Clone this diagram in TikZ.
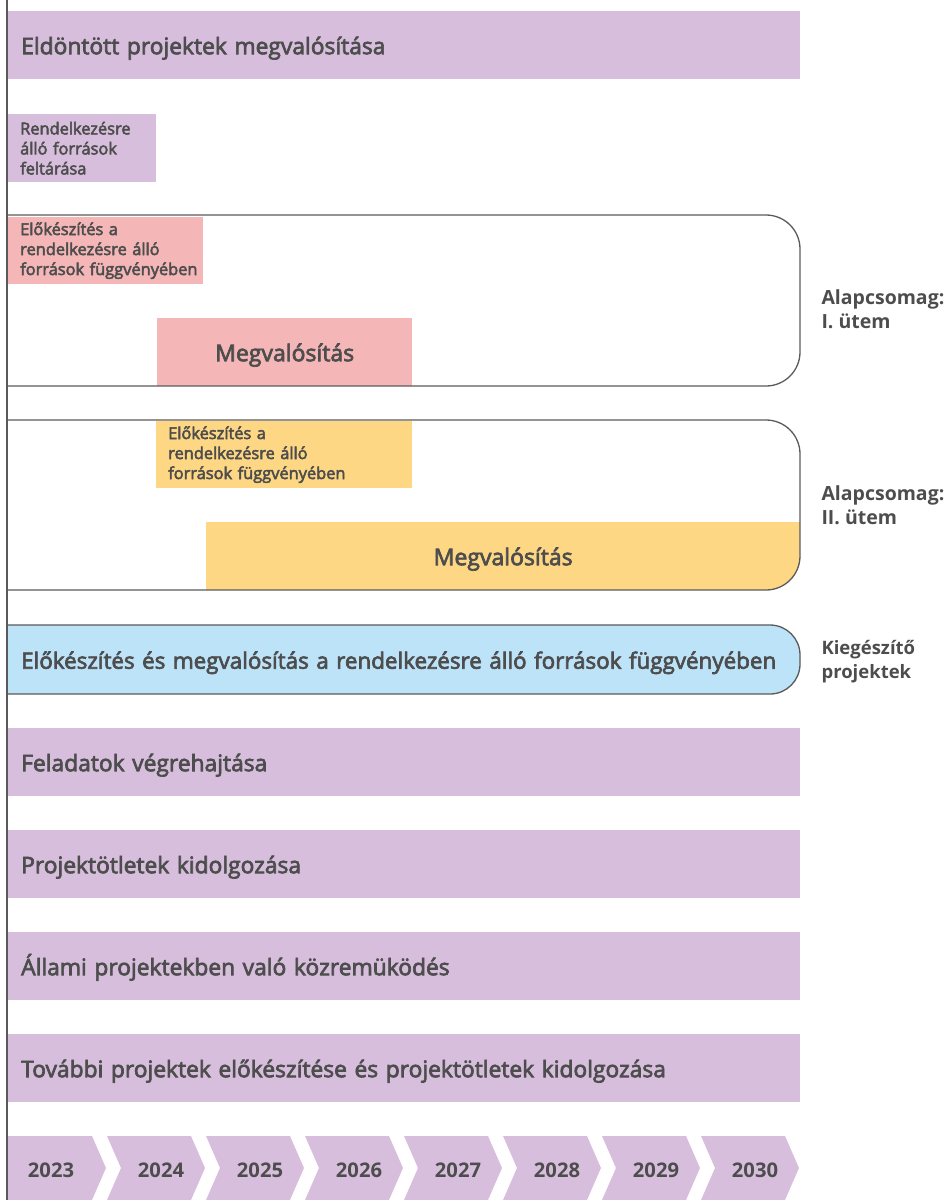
\documentclass[tikz,border=0pt]{standalone}
\usepackage{fontspec}
\setmainfont{Open Sans}
\newfontfamily\felkover{Open Sans}[FakeBold=3]
\usetikzlibrary{positioning}
\definecolor{lila}{HTML}{D8BEDD}
\definecolor{rozsa}{HTML}{F4B6B7}
\definecolor{sarga}{HTML}{FDD784}
\definecolor{kek}{HTML}{BDE3F8}
\definecolor{szoveg}{HTML}{4D4D4D}
\definecolor{keret}{HTML}{5A5A5A}
\begin{document}
\begin{tikzpicture}[x=1pt,y=-1pt,
  every node/.append style={text=szoveg, inner ysep=0pt},
  sav/.style={anchor=north west, fill=lila, minimum height=68pt, inner xsep=13pt,
    text width=766pt, text height=18pt, text depth=0pt, align=left,
    font=\felkover\fontsize{22.8}{26}\selectfont},
  kisdoboz/.style={anchor=north west, minimum height=68pt, inner xsep=12pt,
    align=left, font=\felkover\fontsize{16.4}{20}\selectfont},
  megval/.style={anchor=north west, minimum height=68pt, text height=18pt, text depth=0pt,
    font=\felkover\fontsize{23}{26}\selectfont},
  csomag/.style={anchor=west, align=left, font=\bfseries\fontsize{19.5}{24}\selectfont},
  keretvonal/.style={draw=keret, line width=1.3pt}]
\useasboundingbox (0,0) rectangle (948,1200);

% lila savok
\node[sav] (eldontott) at (8,11) {Eldöntött projektek megvalósítása};
\node[kisdoboz, fill=lila, text width=124pt] (feltaras) at (8,114)
  {\mbox{Rendelkezésre}\\\mbox{álló források}\\\mbox{feltárása}};

% Alapcsomag I. utem
\node[kisdoboz, fill=rozsa, minimum height=67pt, text width=171pt] (elok1) at (8,217)
  {\mbox{Előkészítés a}\\\mbox{rendelkezésre álló}\\\mbox{források függvényében}};
\node[megval, fill=rozsa, minimum width=255pt] (megval1) at (157,318) {Megvalósítás};
\draw[keretvonal, rounded corners=34pt] (7,215) -- (800,215) -- (800,386) -- (7,386);
\node[csomag] (utem1) at (818,309) {Alapcsomag:\\I. ütem};

% Alapcsomag II. utem
\node[kisdoboz, fill=sarga, minimum height=67pt, text width=232pt] (elok2) at (156,421)
  {\mbox{Előkészítés a}\\\mbox{rendelkezésre álló}\\\mbox{források függvényében}};
\begin{scope}
  \clip[rounded corners=34pt] (7,420) -- (800,420) -- (800,590) -- (7,590) -- cycle;
  \node[megval, fill=sarga, minimum width=594pt] (megval2) at (206,522) {Megvalósítás};
\end{scope}
\draw[keretvonal, rounded corners=34pt] (7,420) -- (800,420) -- (800,590) -- (7,590);
\node[csomag] (utem2) at (818,505) {Alapcsomag:\\II. ütem};

% kiegeszito projektek
\filldraw[keretvonal, fill=kek, rounded corners=30pt] (7,625) -- (800,625) -- (800,694) -- (7,694);
\node[sav, fill=none, minimum height=69pt, font=\felkover\fontsize{22.4}{26}\selectfont] (kiegeszito) at (8,625)
  {\mbox{Előkészítés és megvalósítás a rendelkezésre álló források függvényében}};
\node[csomag, font=\bfseries\fontsize{18.5}{24}\selectfont] (kieg) at (818,662) {Kiegészítő\\projektek};

% tovabbi savok
\node[sav] (feladatok) at (8,728) {Feladatok végrehajtása};
\node[sav] (otletek) at (8,830) {Projektötletek kidolgozása};
\node[sav] (allami) at (8,932) {Állami projektekben való közremüködés};
\node[sav] (tovabbi) at (8,1034) {További projektek előkészítése és projektötletek kidolgozása};

% evek
\foreach \ev [count=\i from 0] in {2023,...,2030} {
  \pgfmathsetmacro\a{8+99*\i}
  \pgfmathsetmacro\n{\i==0 ? 0 : 14}
  \pgfmathsetmacro\kx{\i==0 ? 51 : \a+54}
  \fill[lila] (\a,1136) -- (\a+84,1136) -- (\a+98,1168) -- (\a+84,1200)
    -- (\a,1200) -- (\a+\n,1168) -- cycle;
  \node[font=\bfseries\fontsize{20.2}{24}\selectfont] (ev\ev) at (\kx,1170) {\ev};
}

% bal oldali vonal
\draw[keret, line width=1.5pt] (7,0) -- (7,1200);
\end{tikzpicture}
\end{document}
